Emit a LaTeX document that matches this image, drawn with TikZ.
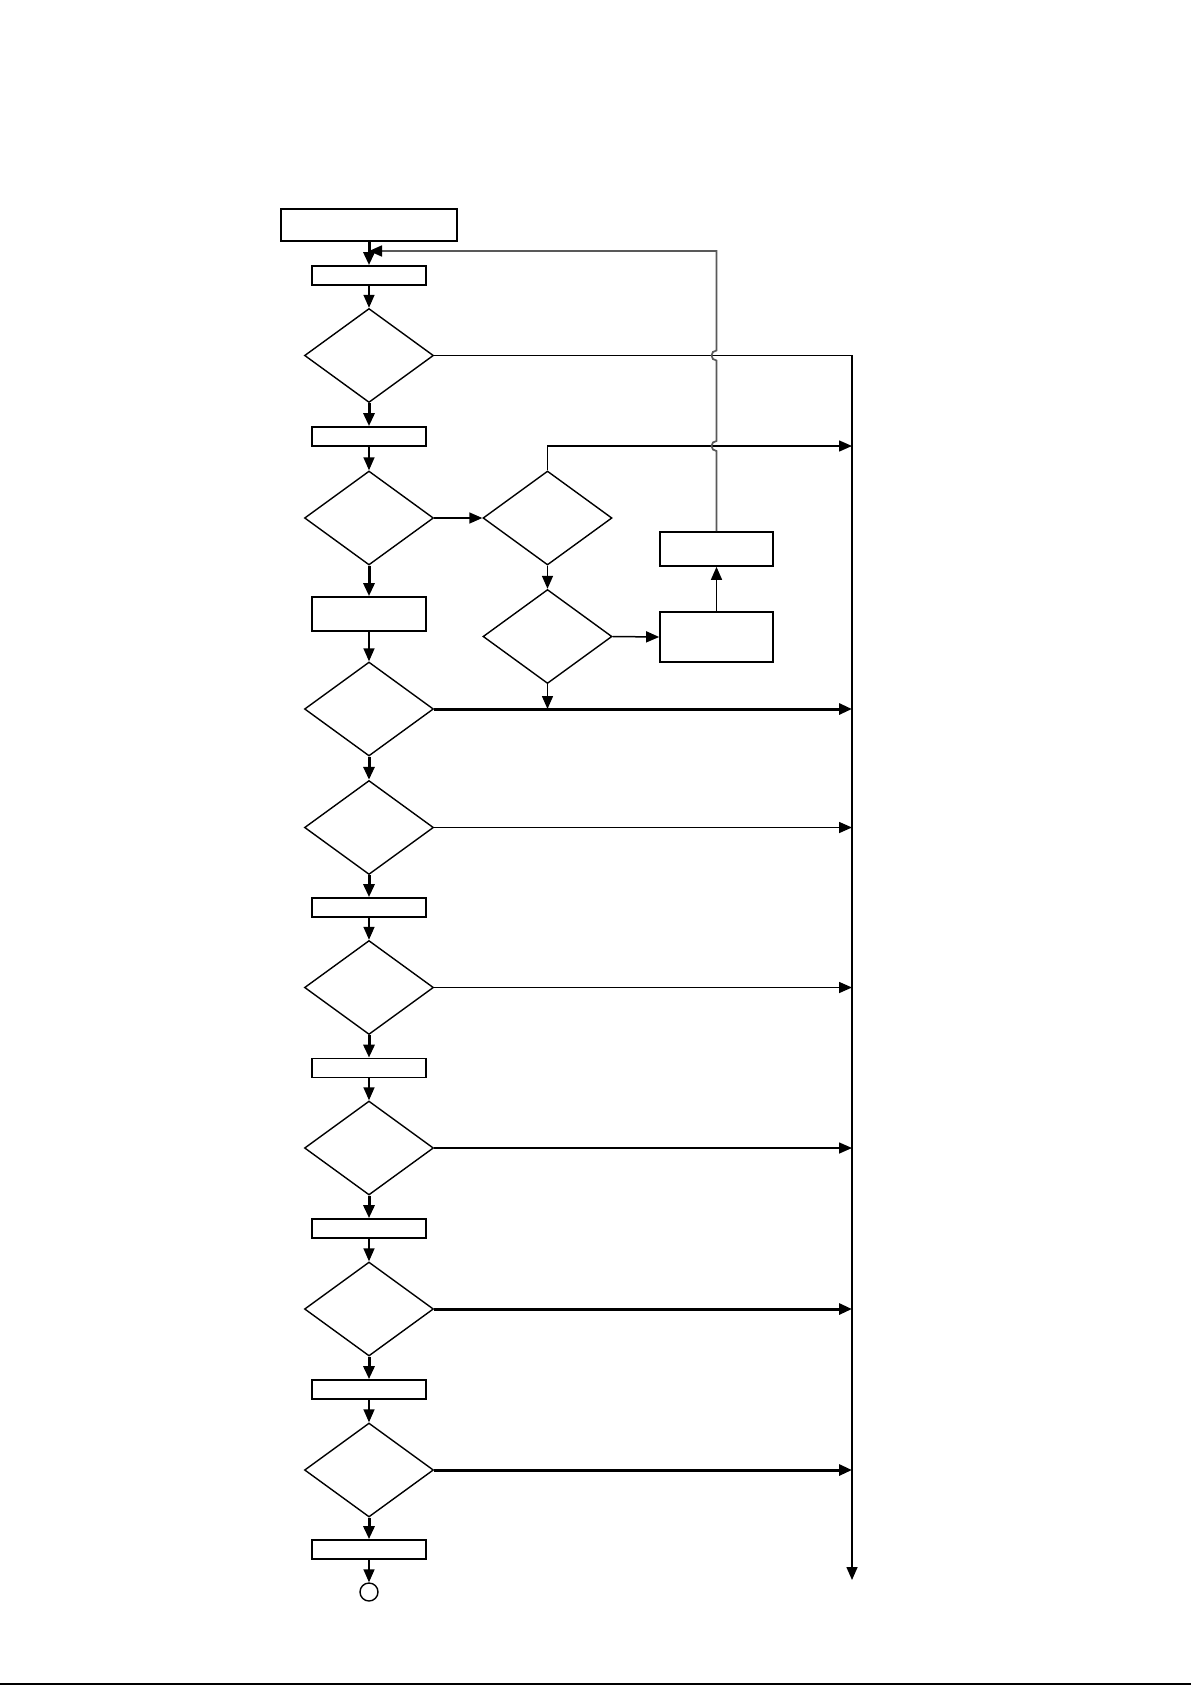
\documentclass[tikz,border=0pt]{standalone}
\usetikzlibrary{arrows.meta,shapes.geometric}
\begin{document}
\begin{tikzpicture}[x=1pt,y=-1pt,>={Triangle[length=13pt,width=11pt]},
  caixa/.style={draw,line width=1.7pt,inner sep=0pt,minimum width=114pt,minimum height=19pt},
  decisao/.style={draw,diamond,line width=1.4pt,inner sep=0pt,minimum width=129pt,minimum height=94pt},
  fino/.style={->,line width=1.5pt},
  grosso/.style={->,line width=3pt},
  retorno/.style={-{Triangle[length=13pt,width=11pt,black]},line width=1.7pt,draw=black!65}]
\useasboundingbox(0,0)rectangle(1191,1685);
% coluna principal
\node[caixa,minimum width=176pt,minimum height=32pt](inicio)at(369,225){};
\node[caixa](c1)at(369,275.5){};
\node[decisao](d1)at(369,355.5){};
\node[caixa](c2)at(369,436.5){};
\node[decisao](d2)at(369,518){};
\node[caixa,minimum height=34pt](c3)at(369,614){};
\node[decisao](d3)at(369,709){};
\node[decisao](d4)at(369,827.5){};
\node[caixa](c4)at(369,907.5){};
\node[decisao](d5)at(369,987.5){};
\node[caixa](c5)at(369,1068){};
\node[decisao](d6)at(369,1148){};
\node[caixa](c6)at(369,1228.5){};
\node[decisao](d7)at(369,1309){};
\node[caixa](c7)at(369,1389.5){};
\node[decisao](d8)at(369,1470){};
\node[caixa](c8)at(369,1549.5){};
\node[draw,circle,line width=1.4pt,minimum size=18pt,inner sep=0pt](fim)at(369,1592){};
% ramo lateral
\node[decisao](s1)at(547.5,518){};
\node[decisao](s2)at(547.5,636.5){};
\node[caixa,minimum width=113pt,minimum height=50pt](r1)at(716.5,637){};
\node[caixa,minimum width=113pt,minimum height=34pt](r2)at(716.5,549){};
\coordinate(barra)at(852,355.5);
\coordinate(barrafim)at(852,1580);
\coordinate(topo)at(716.5,251);
\coordinate(desvio)at(547.5,446);
% fluxo
\draw[grosso](inicio)--(c1);\draw[fino](c1)--(d1);
\draw[grosso](d1)--(c2);\draw[fino](c2)--(d2);
\draw[grosso](d2)--(c3);\draw[fino](c3)--(d3);
\draw[grosso](d3)--(d4);\draw[grosso](d4)--(c4);
\draw[fino](c4)--(d5);\draw[grosso](d5)--(c5);
\draw[fino](c5)--(d6);\draw[grosso](d6)--(c6);
\draw[fino](c6)--(d7);\draw[grosso](d7)--(c7);
\draw[fino](c7)--(d8);\draw[grosso](d8)--(c8);
\draw[fino](c8)--(fim);
% saidas para a direita
\draw[fino](d1.east)--(barra)--(barrafim);
\draw[grosso](d3.east)--(d3.east-|barra);
\draw[fino](d4.east)--(d4.east-|barra);
\draw[fino](d5.east)--(d5.east-|barra);
\draw[fino](d6.east)--(d6.east-|barra);
\draw[grosso](d7.east)--(d7.east-|barra);
\draw[grosso](d8.east)--(d8.east-|barra);
\draw[fino](d2.east)--(s1.west);
\draw[fino](s1.north)--(desvio)--(desvio-|barra);
\draw[fino](s1)--(s2);
\draw[fino](s2.east)--(r1.west);
\draw[fino](r1)--(r2);
\draw[fino](s2.south)--(s2.south|-d3.east);
% retorno com saltos
\draw[retorno](r2.north)--(716.5,451)arc[start angle=90,end angle=270,radius=5]
  --(716.5,360.5)arc[start angle=90,end angle=270,radius=5]--(topo)--(topo-|inicio.south);
\draw[line width=2pt](0,1684)--(1191,1684);
\end{tikzpicture}
\end{document}
